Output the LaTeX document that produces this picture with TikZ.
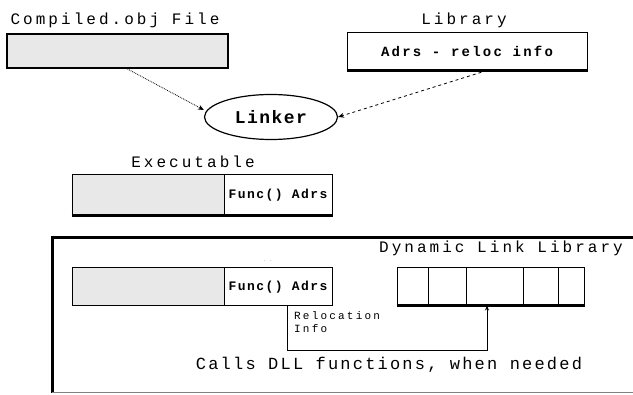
\documentclass[tikz,border=0pt]{standalone}
\usepackage{fontspec}
\usetikzlibrary{shapes.geometric,arrows.meta,calc}
\newfontfamily\lblfont[LetterSpace=19]{Liberation Mono}
\newfontfamily\boldfont[LetterSpace=11]{Liberation Mono Bold}
\newfontfamily\adrsfont[LetterSpace=16]{Liberation Mono Bold}
\newfontfamily\linkfont[LetterSpace=8]{Liberation Mono Bold}
\newfontfamily\smallfont[LetterSpace=20]{Liberation Mono}
\newfontfamily\callfont[LetterSpace=13]{Liberation Mono}
\definecolor{boxgray}{HTML}{E8E8E8}
\begin{document}
\begin{tikzpicture}[x=1pt,y=-1pt,
  lbl/.style={font=\lblfont\fontsize{16}{18}\selectfont, inner sep=0pt},
  grayc/.style={draw, fill=boxgray, line width=1pt, minimum height=38pt, inner sep=0pt},
  whitec/.style={draw, fill=white, line width=1pt, minimum height=38pt, inner sep=0pt, font=\boldfont\fontsize{13}{15}\selectfont},
  dllcell/.style={draw, line width=1pt, minimum height=37pt, inner sep=0pt},
  conn/.style={line width=0.8pt, -{Stealth[length=6pt,width=5pt]}}]
\useasboundingbox (0,0) rectangle (633,395);
% top
\node[lbl, anchor=base] (lcomp) at (115,25) {Compiled.obj File};
\node[draw, fill=boxgray, line width=2pt, minimum width=221pt, minimum height=34pt, inner sep=0pt] (comp) at (117.5,51) {};
\node[lbl, anchor=base] (llib) at (464,25) {Library};
\node[draw, line width=1pt, minimum width=240pt, minimum height=37pt, inner sep=0pt,
      font=\adrsfont\fontsize{14}{16}\selectfont] (lib) at (467,51.5) {Adrs - reloc info};
\draw[line width=2.2pt] (lib.south west) -- (lib.south east);
\node[draw, ellipse, line width=1.2pt, minimum width=133pt, minimum height=45pt, inner sep=0pt,
      font=\linkfont\fontsize{18}{20}\selectfont] (link) at (271,117) {Linker};
\draw[conn, densely dotted] ([xshift=10pt]comp.south) -- (link.west |- 0,110);
\draw[conn, dashed] ([xshift=20pt]lib.south) -- (link.east);
% executable
\node[lbl, anchor=base] (lexe) at (193,168) {Executable};
\node[grayc, minimum width=152pt, minimum height=40pt] (e1) at (148,195) {};
\node[whitec, minimum width=108pt, minimum height=40pt] (e2) at (278,195) {Func() Adrs};
\draw[line width=2.5pt] (e1.south west) -- (e2.south east);
% big box
\coordinate (bbtr) at (640,238);
\coordinate (bbtl) at (52,238);
\coordinate (bbbl) at (52,393);
\coordinate (bbbr) at (640,393);
\draw[line width=3pt] (bbtr) -- (bbtl) -- (bbbl);
\draw[line width=1pt, gray] (bbbl) -- (bbbr);
\node[font=\tiny, inner sep=0pt] (mark) at (268,261) {\textperiodcentered\,\textperiodcentered};
\node[grayc, minimum width=152pt] (i1) at (148,287) {};
\node[whitec, minimum width=108pt] (i2) at (278,287) {Func() Adrs};
% DLL
\node[lbl, anchor=base] (ldll) at (501,253) {Dynamic Link Library};
\node[dllcell, minimum width=31pt] (d1) at (412.5,286.5) {};
\node[dllcell, minimum width=38pt] (d2) at (447,286.5) {};
\node[dllcell, minimum width=57pt] (d3) at (494.5,286.5) {};
\node[dllcell, minimum width=35pt] (d4) at (540.5,286.5) {};
\node[dllcell, minimum width=26pt] (d5) at (571,286.5) {};
\draw[line width=2.5pt] (d1.south west) -- (d5.south east);
% relocation
\coordinate (rbot) at (287,350);
\draw[line width=0.9pt, -{Stealth[length=5pt,width=4pt]}] ([xshift=9pt]i2.south) -- (rbot) -| ([xshift=-7.5pt]d3.south);
\node[font=\smallfont\fontsize{11}{13}\selectfont, align=left, anchor=north west, inner sep=0pt] (rinfo) at (294,311) {Relocation\\Info};
\node[font=\callfont\fontsize{17}{19}\selectfont, inner sep=0pt] (calls) at (389,365) {Calls DLL functions, when needed};
\end{tikzpicture}
\end{document}
